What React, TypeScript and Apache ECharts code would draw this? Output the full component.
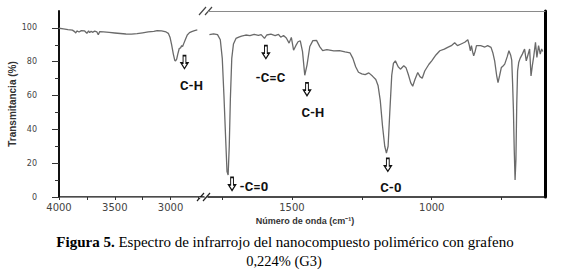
import React, { useEffect, useRef } from 'react';
import * as echarts from 'echarts';

// Left panel (4000–2700 cm-1)
const leftWavenumbers = [4000, 3960, 3920, 3880, 3860, 3850, 3840, 3820, 3800, 3770, 3750, 3735, 3725, 3712, 3700, 3680, 3660, 3648, 3635, 3600, 3550, 3500, 3450, 3400, 3350, 3300, 3250, 3200, 3150, 3120, 3080, 3040, 3020, 3005, 2990, 2975, 2962, 2955, 2945, 2935, 2922, 2910, 2900, 2892, 2880, 2865, 2850, 2830, 2810, 2785, 2760];
const leftTransmittance = [99.8, 99.4, 99.0, 98.7, 97.8, 97.0, 98.2, 97.6, 98.4, 98.2, 96.8, 98.2, 97.2, 98.0, 97.4, 98.1, 97.6, 96.0, 97.8, 97.6, 97.3, 97.0, 96.7, 96.4, 96.3, 96.6, 97.1, 97.6, 98.0, 98.4, 98.2, 97.6, 96.8, 94.5, 90.0, 84.5, 80.8, 80.5, 81.5, 84.5, 87.8, 88.2, 89.5, 89.0, 91.0, 93.5, 95.8, 97.2, 97.8, 98.4, 98.8];

// Right panel (1800–600 cm-1)
const rightWavenumbers = [1795, 1780, 1766, 1756, 1749, 1743, 1737, 1732, 1728, 1724, 1720, 1715, 1709, 1700, 1690, 1680, 1665, 1650, 1635, 1620, 1610, 1598, 1590, 1575, 1560, 1548, 1540, 1530, 1520, 1510, 1502, 1494, 1486, 1478, 1470, 1462, 1454, 1446, 1436, 1425, 1412, 1400, 1390, 1375, 1350, 1330, 1310, 1292, 1282, 1272, 1262, 1250, 1238, 1225, 1212, 1200, 1192, 1184, 1176, 1168, 1162, 1156, 1150, 1143, 1137, 1130, 1120, 1112, 1100, 1092, 1084, 1075, 1068, 1060, 1050, 1042, 1034, 1025, 1010, 1000, 985, 971, 955, 943, 930, 918, 908, 895, 882, 871, 866, 862, 858, 854, 850, 845, 840, 825, 810, 800, 788, 781, 775, 768, 763, 757, 751, 745, 739, 730, 724, 718, 714, 711, 708, 705, 702, 699, 696, 693, 689, 684, 676, 668, 662, 656, 650, 645, 640, 635, 629, 624, 618, 612, 607, 603];
const rightTransmittance = [96.0, 96.5, 96.0, 93.0, 82.0, 60.0, 35.0, 15.0, 13.0, 30.0, 58.0, 82.0, 90.5, 93.8, 94.6, 95.2, 95.8, 95.4, 96.2, 95.6, 96.0, 93.8, 95.8, 96.3, 95.5, 96.2, 94.5, 95.5, 94.0, 91.0, 94.4, 86.8, 89.5, 91.8, 92.4, 86.0, 72.0, 78.0, 89.0, 92.5, 92.6, 88.8, 86.6, 87.2, 86.4, 86.6, 85.8, 85.2, 82.0, 77.0, 73.8, 72.8, 72.4, 73.4, 71.5, 69.5, 66.0, 57.0, 42.0, 30.0, 26.0, 30.0, 50.0, 72.0, 79.0, 80.5, 77.0, 75.6, 77.6, 76.5, 72.6, 67.5, 65.5, 69.5, 73.6, 71.2, 70.2, 74.5, 78.5, 80.5, 84.0, 86.5, 87.5, 88.5, 89.5, 91.2, 89.5, 90.5, 91.5, 93.0, 90.0, 86.5, 89.5, 86.0, 83.5, 86.0, 89.5, 89.5, 88.7, 89.5, 88.5, 85.0, 80.5, 72.0, 67.7, 72.0, 76.6, 77.5, 78.6, 83.0, 86.5, 84.0, 81.0, 68.0, 52.0, 28.0, 10.0, 22.0, 55.0, 74.6, 79.5, 82.0, 84.5, 87.5, 80.5, 84.0, 87.5, 71.6, 78.0, 83.5, 91.5, 82.5, 89.5, 84.5, 87.5, 86.0];

// Axis ticks and labels
const yLabelValues = [0, 20, 40, 60, 80, 100];
const yMinorValues = [10, 30, 50, 70, 90];
const leftXTicks = [4000, 3750, 3500, 3250, 3000, 2750];
const leftXLabels = [4000, 3500, 3000];
const rightXTicks = [1750, 1500, 1250, 1000, 750];
const rightXLabels = [1500, 1000];

// Band annotations: panel, text, arrow position, text position (data units)
const annotationPanels = [0, 1, 1, 1, 1];
const annotationTexts = ['C-H', '-C=C', 'C-H', '-C=0', 'C-0'];
const arrowWave = [2875, 1593, 1446, 1714, 1157];
const arrowT = [79.8, 85.7, 63.7, 7.7, 19.0];
const textWave = [2812, 1577, 1425, 1636, 1146];
const textT = [66.0, 70.5, 50.0, 6.0, 5.6];

const ARROW = 'path://M3,0 L7,0 L7,8 L10,8 L5,14 L0,8 L3,8 Z';

function markData(panel: number) {
  const out: any[] = [];
  annotationPanels.forEach((p, i) => {
    if (p !== panel) return;
    out.push({
      coord: [arrowWave[i], arrowT[i]],
      symbol: ARROW,
      symbolSize: [7, 13],
      itemStyle: { color: '#ffffff', borderColor: '#111', borderWidth: 1.3 },
      label: { show: false },
    });
    out.push({
      coord: [textWave[i], textT[i]],
      symbol: 'circle',
      symbolSize: 1,
      itemStyle: { color: 'rgba(0,0,0,0)' },
      label: {
        show: true,
        position: 'inside',
        formatter: annotationTexts[i],
        color: '#111',
        fontFamily: 'Roboto',
        fontWeight: 'bold',
        fontSize: 13,
      },
    });
  });
  return out;
}

const zip = (a: number[], b: number[]) => a.map((v, i) => [v, b[i]]);
const plain = (v: number) => String(v);

export default function App() {
  const ref = useRef<HTMLDivElement>(null);
  useEffect(() => {
    if (!ref.current) return;
    const chart = echarts.init(ref.current, undefined, { renderer: 'svg' });
    const tickFont = { fontFamily: 'DejaVu Sans', color: '#444' };
    const option: any = {
      animation: false,
      backgroundColor: '#ffffff',
      grid: [
        { left: 59, top: 11, width: 145, height: 186 },
        { left: 208, top: 11, width: 337, height: 186 },
      ],
      xAxis: [
        {
          type: 'value', gridIndex: 0, min: 2700, max: 4000, inverse: true, position: 'bottom',
          axisLine: { show: true, lineStyle: { color: '#111', width: 1.5 } },
          axisTick: { show: true, customValues: leftXTicks, length: 3, lineStyle: { color: '#333' } },
          axisLabel: { customValues: leftXLabels, formatter: plain, margin: 5, fontSize: 10, ...tickFont },
          splitLine: { show: false },
        },
        {
          type: 'value', gridIndex: 1, min: 595, max: 1800, inverse: true, position: 'bottom',
          axisLine: { show: true, lineStyle: { color: '#111', width: 1.5 } },
          axisTick: { show: true, customValues: rightXTicks, length: 3, lineStyle: { color: '#333' } },
          axisLabel: { customValues: rightXLabels, formatter: plain, margin: 5, fontSize: 10, ...tickFont },
          splitLine: { show: false },
        },
        {
          type: 'value', gridIndex: 0, min: 2700, max: 4000, inverse: true, position: 'top',
          axisLine: { show: true, lineStyle: { color: '#8a8a8a', width: 1 } },
          axisTick: { show: false }, axisLabel: { show: false }, splitLine: { show: false },
        },
        {
          type: 'value', gridIndex: 1, min: 595, max: 1800, inverse: true, position: 'top',
          axisLine: { show: true, lineStyle: { color: '#8a8a8a', width: 1 } },
          axisTick: { show: false }, axisLabel: { show: false }, splitLine: { show: false },
        },
      ],
      yAxis: [
        {
          type: 'value', gridIndex: 0, min: 0, max: 110, position: 'left',
          name: 'Transmitancia (%)', nameLocation: 'middle', nameGap: 42,
          nameTextStyle: { fontFamily: 'Liberation Sans', fontWeight: 'bold', fontSize: 10, color: '#333' },
          axisLine: { show: true, lineStyle: { color: '#111', width: 2 } },
          axisTick: { show: true, customValues: yLabelValues, length: 7, lineStyle: { color: '#333' } },
          axisLabel: { customValues: yLabelValues, formatter: plain, margin: 22, fontSize: 8, ...tickFont },
          splitLine: { show: false },
        },
        {
          type: 'value', gridIndex: 0, min: 0, max: 110, position: 'left',
          axisLine: { show: false },
          axisTick: { show: true, customValues: yMinorValues, length: 4, lineStyle: { color: '#333' } },
          axisLabel: { show: false },
          splitLine: { show: false },
        },
        {
          type: 'value', gridIndex: 1, min: 0, max: 110, position: 'right',
          axisLine: { show: true, lineStyle: { color: '#000', width: 3 } },
          axisTick: { show: false }, axisLabel: { show: false }, splitLine: { show: false },
        },
      ],
      series: [
        {
          type: 'line', xAxisIndex: 0, yAxisIndex: 0, data: zip(leftWavenumbers, leftTransmittance),
          showSymbol: false, lineStyle: { color: '#6a6a6a', width: 1.3 },
          markPoint: { data: markData(0), animation: false },
        },
        {
          type: 'line', xAxisIndex: 1, yAxisIndex: 2, data: zip(rightWavenumbers, rightTransmittance),
          showSymbol: false, lineStyle: { color: '#6a6a6a', width: 1.3 },
          markPoint: { data: markData(1), animation: false },
        },
      ],
      graphic: [
        { type: 'line', shape: { x1: 199, y1: 15, x2: 206, y2: 7 }, style: { stroke: '#444', lineWidth: 1.2 } },
        { type: 'line', shape: { x1: 205, y1: 15, x2: 212, y2: 7 }, style: { stroke: '#444', lineWidth: 1.2 } },
        { type: 'line', shape: { x1: 197, y1: 201, x2: 204, y2: 193 }, style: { stroke: '#222', lineWidth: 1.2 } },
        { type: 'line', shape: { x1: 203, y1: 201, x2: 210, y2: 193 }, style: { stroke: '#222', lineWidth: 1.2 } },
        {
          type: 'text', x: 305, y: 221,
          style: {
            text: 'Número de onda (cm⁻¹)', align: 'center', verticalAlign: 'middle',
            fontFamily: 'Liberation Sans', fontWeight: 'bold', fontSize: 9, fill: '#333',
          },
        },
        {
          type: 'text', x: 285, y: 242,
          style: {
            text: '{b|Figura 5.} Espectro de infrarrojo del nanocompuesto polimérico con grafeno',
            align: 'center', verticalAlign: 'middle',
            fontFamily: 'Liberation Serif', fontSize: 15, fill: '#000',
            rich: { b: { fontFamily: 'Liberation Serif', fontSize: 15, fontWeight: 'bold', fill: '#000' } },
          },
        },
        {
          type: 'text', x: 284, y: 261,
          style: {
            text: '0,224% (G3)', align: 'center', verticalAlign: 'middle',
            fontFamily: 'Liberation Serif', fontSize: 14.5, fill: '#000',
          },
        },
      ],
    };
    chart.setOption(option);
    return () => chart.dispose();
  }, []);
  return (
    <div
      ref={ref}
      style={{ position: 'fixed', left: 0, top: 0, width: 574, height: 274, background: '#fff' }}
    />
  );
}
